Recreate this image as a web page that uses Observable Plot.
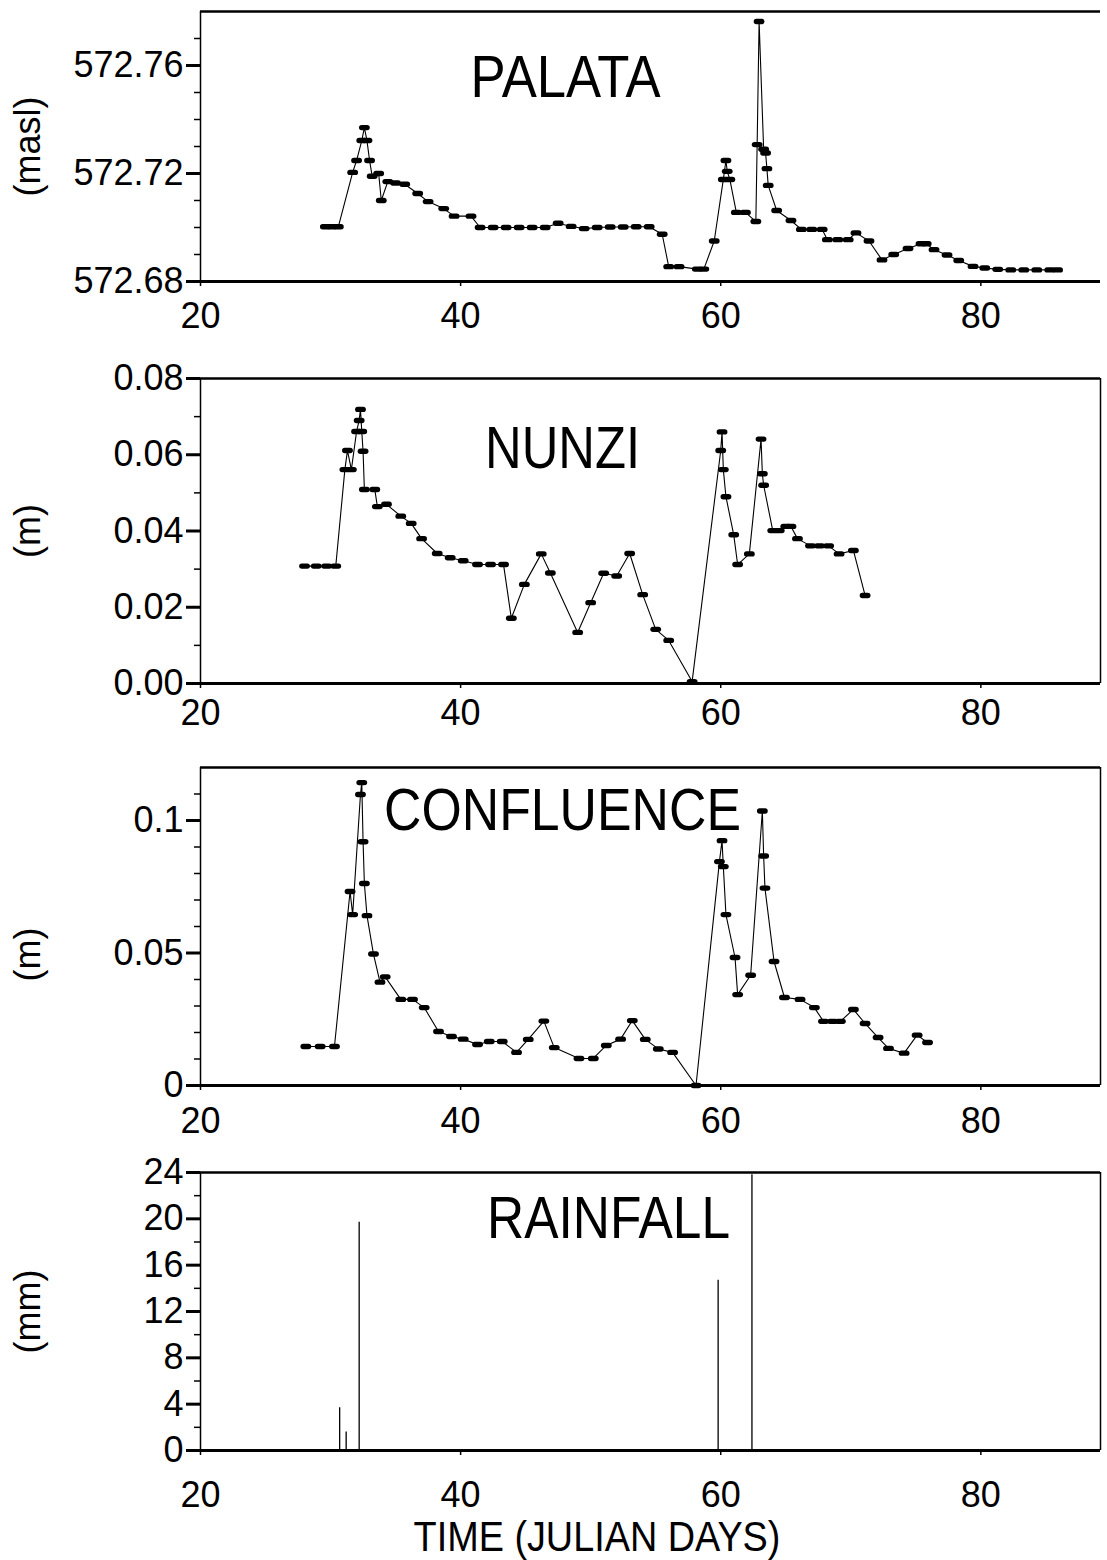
<!DOCTYPE html>
<html>
<head>
<meta charset="utf-8">
<script src="https://cdn.jsdelivr.net/npm/d3@7"></script>
<script src="https://cdn.jsdelivr.net/npm/@observablehq/plot@0.6"></script>
<style>
  html, body { margin: 0; padding: 0; background: #fff; }
  body { position: relative; width: 1107px; height: 1560px; overflow: hidden; font-family: "Liberation Sans", Arial, sans-serif; }
  .panel { position: absolute; left: 0; }
  #xlabel { position: absolute; left: 0; width: 1194px; top: 1516px; text-align: center; font-family: "Liberation Sans", Arial, sans-serif; font-size: 42px; line-height: 42px; color: #000; transform: scaleX(0.9); transform-origin: 597px 0; }
</style>
</head>
<body>
<div id="p1" class="panel" style="top:0px"></div>
<div id="p2" class="panel" style="top:340px"></div>
<div id="p3" class="panel" style="top:740px"></div>
<div id="p4" class="panel" style="top:1140px"></div>
<div id="xlabel">TIME (JULIAN DAYS)</div>
<script>
// ---------- data ----------
const xTicks = [20, 40, 60, 80];

const palataDay = [29.6,30.1,30.6,31.7,32.0,32.4,32.6,32.8,33.0,33.2,33.7,33.9,34.4,35.0,35.7,36.7,37.5,38.7,39.5,40.8,41.5,42.5,43.5,44.5,45.5,46.5,47.5,48.5,49.5,50.5,51.5,52.5,53.5,54.5,55.5,56.0,56.8,58.2,58.7,59.5,60.2,60.4,60.5,60.7,61.2,61.9,62.7,62.8,62.95,63.3,63.45,63.55,63.65,64.3,65.4,66.2,67.0,67.8,68.2,69.0,69.8,70.4,71.4,72.4,73.3,74.4,75.4,75.8,76.4,77.4,78.3,79.4,80.3,81.3,82.3,83.3,84.3,85.3,85.9];
const palataLevel = [572.7003,572.7003,572.7003,572.7204,572.7248,572.7322,572.7370,572.7322,572.7248,572.7190,572.7200,572.7100,572.7170,572.7165,572.7160,572.7126,572.7096,572.7070,572.7042,572.7042,572.7000,572.7000,572.7000,572.7000,572.7000,572.7000,572.7016,572.7004,572.6996,572.7000,572.7002,572.7002,572.7003,572.7003,572.6975,572.6855,572.6855,572.6846,572.6846,572.6950,572.7178,572.7248,572.7208,572.7178,572.7056,572.7056,572.7022,572.7307,572.7763,572.7290,572.7276,572.7218,572.7156,572.7063,572.7026,572.6993,572.6993,572.6993,572.6955,572.6955,572.6955,572.6980,572.6950,572.6880,572.6900,572.6922,572.6940,572.6940,572.6918,572.6898,572.6878,572.6856,572.6850,572.6845,572.6843,572.6843,572.6843,572.6843,572.6843];
const palataMajor = [572.68, 572.72, 572.76];
const palataMinor = [572.69, 572.70, 572.71, 572.73, 572.74, 572.75, 572.77];

const nunziDay = [28.0,28.9,29.7,30.4,31.1,31.3,31.6,32.0,32.2,32.3,32.4,32.5,32.6,33.4,33.6,34.3,35.4,36.2,37.0,38.2,39.2,40.2,41.3,42.3,43.3,43.9,44.9,46.2,46.9,49.0,50.0,51.0,52.0,53.0,54.0,55.0,56.0,57.8,60.0,60.1,60.2,60.4,61.0,61.3,62.2,63.1,63.2,63.3,64.0,64.5,65.0,65.4,65.9,66.9,67.6,68.3,69.1,70.2,71.1];
const nunziLevel = [0.0308,0.0308,0.0308,0.0308,0.0561,0.0611,0.0561,0.0661,0.0690,0.0719,0.0661,0.0609,0.0509,0.0509,0.0464,0.0470,0.0439,0.0420,0.0380,0.0341,0.0330,0.0322,0.0312,0.0312,0.0312,0.0171,0.0260,0.0340,0.0290,0.0134,0.0212,0.0289,0.0282,0.0341,0.0233,0.0142,0.0113,0.0005,0.0611,0.0660,0.0561,0.0490,0.0390,0.0312,0.0340,0.0641,0.0550,0.0520,0.0401,0.0401,0.0412,0.0412,0.0380,0.0361,0.0361,0.0361,0.0340,0.0349,0.0231];
const nunziMajor = [0, 0.02, 0.04, 0.06, 0.08];
const nunziMinor = [0.01, 0.03, 0.05, 0.07];

const confDay = [28.1,29.2,30.3,31.5,31.7,32.3,32.4,32.5,32.6,32.8,33.3,33.8,34.2,35.4,36.3,37.2,38.3,39.3,40.2,41.3,42.2,43.2,44.3,45.2,46.4,47.2,49.1,50.2,51.2,52.3,53.2,54.2,55.2,56.3,58.1,59.9,60.1,60.2,60.4,61.1,61.3,62.3,63.2,63.3,63.4,64.1,64.9,66.1,67.2,67.9,68.6,69.2,70.2,71.1,72.1,72.9,74.1,75.1,75.9];
const confLevel = [0.0147,0.0147,0.0147,0.0732,0.0645,0.1098,0.1143,0.0920,0.0762,0.0641,0.0496,0.0390,0.0410,0.0325,0.0325,0.0294,0.0204,0.0185,0.0175,0.0155,0.0166,0.0166,0.0125,0.0174,0.0243,0.0143,0.0102,0.0102,0.0151,0.0175,0.0245,0.0174,0.0138,0.0125,0.0000,0.0845,0.0924,0.0826,0.0645,0.0483,0.0343,0.0416,0.1036,0.0866,0.0745,0.0468,0.0332,0.0325,0.0294,0.0242,0.0242,0.0242,0.0287,0.0234,0.0181,0.0140,0.0122,0.0190,0.0162];
const confMajor = [0, 0.05, 0.1];
const confMinor = [0.01, 0.02, 0.03, 0.04, 0.06, 0.07, 0.08, 0.09, 0.11];

const rainDay = [30.7, 31.2, 32.2, 59.8, 62.4];
const rainMm = [3.7, 1.6, 19.7, 14.7, 23.8];
const rainMajor = [0, 4, 8, 12, 16, 20, 24];
const rainMinor = [2, 6, 10, 14, 18, 22];

// ---------- drawing ----------
const FONT = "'Liberation Sans', Arial, sans-serif";
const xDomain = [20, 89.2];

// short horizontal capsule marker like the original plotter dashes
const dashSymbol = {
  draw(ctx) {
    const h = 2.7, w = 2.7;
    ctx.moveTo(-w, -h);
    ctx.lineTo(w, -h);
    ctx.arc(w, 0, h, -Math.PI / 2, Math.PI / 2);
    ctx.lineTo(-w, h);
    ctx.arc(-w, 0, h, Math.PI / 2, 3 * Math.PI / 2);
    ctx.closePath();
  }
};

function series(days, vals) {
  return days.map((d, i) => ({day: d, v: vals[i]}));
}

function panel(o) {
  const marks = [
    Plot.ruleY([o.yDomain[1]], {stroke: "black", strokeWidth: 2.5}),
    Plot.ruleY([o.yDomain[0]], {stroke: "black", strokeWidth: 3}),
    Plot.ruleX([xDomain[0]], {stroke: "black", strokeWidth: 1.5}),
    o.right ? Plot.ruleX([xDomain[1]], {stroke: "black", strokeWidth: 1.5}) : null,
    Plot.axisY(o.minor, {tickSize: 6, tickFormat: () => "", label: null, strokeWidth: 1.5}),
    Plot.axisY(o.major, {tickSize: 14, tickPadding: 3, tickFormat: o.fmt, label: null, strokeWidth: 3, fontSize: 36, fontFamily: FONT}),
    Plot.axisX(xTicks, {tickSize: 5, tickPadding: o.xPad, label: null, fontSize: 36, fontFamily: FONT, strokeWidth: 1.5}),
    Plot.text([o.ylabel], {text: d => d, frameAnchor: "left", textAnchor: "middle", lineAnchor: "middle", dx: -172, dy: o.ylabelDy || 0, rotate: -90, fontSize: 36, fontFamily: FONT, fill: "black"}),
    Plot.text([o.title], {text: d => d, frameAnchor: "top", textAnchor: "middle", lineAnchor: "middle", dx: o.titleDx, dy: o.titleDy, fontSize: 60, fontFamily: FONT, fill: "black"}),
    ...o.marks
  ];
  const svg = Plot.plot({
    width: 1107,
    height: o.marginTop + o.inner + 50,
    marginLeft: 200,
    marginRight: 7,
    marginTop: o.marginTop,
    marginBottom: 50,
    x: {domain: xDomain, label: null},
    y: {domain: o.yDomain, label: null},
    style: {fontFamily: FONT, fontSize: "36px", color: "black", background: "white", overflow: "visible"},
    marks
  });
  // condense the panel title the way the original plotter lettering is condensed
  svg.querySelectorAll("text").forEach(t => {
    if (t.textContent === o.title) {
      t.setAttribute("textLength", o.titleWidth);
      t.setAttribute("lengthAdjust", "spacingAndGlyphs");
    }
  });
  return svg;
}

function lineMarks(data) {
  return [
    Plot.line(data, {x: "day", y: "v", stroke: "black", strokeWidth: 1.1}),
    Plot.dot(data, {x: "day", y: "v", symbol: dashSymbol, r: 3, fill: "black", stroke: "none"})
  ];
}

document.getElementById("p1").append(panel({
  yDomain: [572.68, 572.78], marginTop: 11, inner: 270,
  major: palataMajor, minor: palataMinor, fmt: d => d.toFixed(2),
  ylabel: "(masl)", title: "PALATA", titleWidth: 190, titleDx: -85, titleDy: 66, xPad: 16, right: false,
  marks: lineMarks(series(palataDay, palataLevel))
}));

document.getElementById("p2").append(panel({
  yDomain: [0, 0.08], marginTop: 38, inner: 305,
  major: nunziMajor, minor: nunziMinor, fmt: d => d.toFixed(2),
  ylabel: "(m)", title: "NUNZI", titleWidth: 155, titleDx: -88, titleDy: 70, xPad: 11, right: true,
  marks: lineMarks(series(nunziDay, nunziLevel))
}));

document.getElementById("p3").append(panel({
  yDomain: [0, 0.12], marginTop: 27, inner: 318,
  major: confMajor, minor: confMinor, fmt: d => String(d),
  ylabel: "(m)", ylabelDy: 28, title: "CONFLUENCE", titleWidth: 357, titleDx: -88, titleDy: 43, xPad: 17, right: true,
  marks: lineMarks(series(confDay, confLevel))
}));

document.getElementById("p4").append(panel({
  yDomain: [0, 24], marginTop: 32, inner: 278,
  major: rainMajor, minor: rainMinor, fmt: d => String(d),
  ylabel: "(mm)", title: "RAINFALL", titleWidth: 243, titleDx: -42, titleDy: 46, xPad: 26, right: true,
  marks: [Plot.ruleX(series(rainDay, rainMm), {x: "day", y1: 0, y2: "v", stroke: "black", strokeWidth: 1.3})]
}));
</script>
</body>
</html>
